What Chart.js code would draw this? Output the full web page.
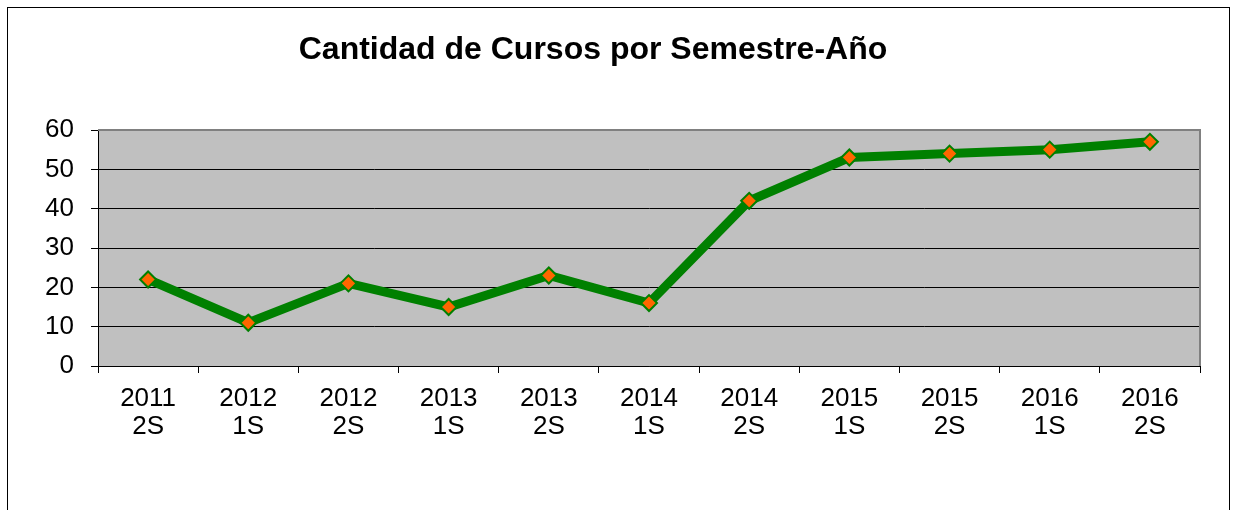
<!DOCTYPE html>
<html>
<head>
<meta charset="utf-8">
<script src="https://cdn.jsdelivr.net/npm/chart.js@4/dist/chart.umd.min.js"></script>
<style>
  html, body { margin: 0; padding: 0; background: #fff; }
  #wrap { width: 1236px; height: 510px; }
</style>
</head>
<body>
<div id="wrap"><canvas id="chart" width="1236" height="510"></canvas></div>
<script>
const titleText = 'Cantidad de Cursos por Semestre-Año';
const years = ['2011', '2012', '2012', '2013', '2013', '2014', '2014', '2015', '2015', '2016', '2016'];
const semesters = ['2S', '1S', '2S', '1S', '2S', '1S', '2S', '1S', '2S', '1S', '2S'];
const cursos = [22, 11, 21, 15, 23, 16, 42, 53, 54, 55, 57];
const yMin = 0;
const yMax = 60;
const yStep = 10;

const labels = years.map((y, i) => [y, semesters[i]]);
const FONT = 'Arial, "Liberation Sans", sans-serif';

// frame, grey plot background and title
const framePlugin = {
    id: 'frame',
    beforeDraw(chart) {
        const { ctx, chartArea: a } = chart;
        ctx.save();
        ctx.fillStyle = '#fff';
        ctx.fillRect(0, 0, chart.width, chart.height);
        ctx.strokeStyle = '#000';
        ctx.lineWidth = 1;
        ctx.strokeRect(7.5, 7.5, 1222, 600);
        ctx.fillStyle = '#C0C0C0';
        ctx.fillRect(a.left, a.top, a.right - a.left, a.bottom - a.top);
        ctx.fillStyle = '#000';
        ctx.font = 'bold 32px ' + FONT;
        ctx.textAlign = 'center';
        ctx.textBaseline = 'alphabetic';
        ctx.fillText(titleText, 593, 59);
        ctx.restore();
    },
    beforeDatasetsDraw(chart) {
        const { ctx, chartArea: a } = chart;
        ctx.save();
        ctx.strokeStyle = '#808080';
        ctx.lineWidth = 2;
        ctx.beginPath();
        ctx.moveTo(a.left, a.top);
        ctx.lineTo(a.right, a.top);
        ctx.lineTo(a.right, a.bottom);
        ctx.stroke();
        ctx.restore();
    }
};

new Chart(document.getElementById('chart'), {
    type: 'line',
    data: {
        labels: labels,
        datasets: [{
            data: cursos,
            borderColor: '#008000',
            borderWidth: 9,
            tension: 0,
            pointStyle: 'rectRot',
            pointRadius: 8,
            pointBackgroundColor: '#FF6600',
            pointBorderColor: '#008000',
            pointBorderWidth: 2
        }]
    },
    options: {
        responsive: false,
        animation: false,
        devicePixelRatio: 1,
        layout: { padding: { top: 130, right: 36, left: 0, bottom: 0 } },
        plugins: {
            legend: { display: false },
            title: { display: false },
            tooltip: { enabled: false }
        },
        scales: {
            x: {
                offset: true,
                grid: { offset: true, drawOnChartArea: false, drawTicks: true, tickLength: 7, color: '#000' },
                border: { color: '#000', width: 1 },
                ticks: { color: '#000', font: { family: FONT, size: 26, lineHeight: 1.08 }, padding: 12, maxRotation: 0, autoSkip: false },
                afterFit: s => { s.height = 144; }
            },
            y: {
                min: yMin,
                max: yMax,
                grid: { color: '#000', lineWidth: 1, tickLength: 7 },
                border: { color: '#000', width: 1 },
                ticks: { stepSize: yStep, color: '#000', font: { family: FONT, size: 26 }, padding: 17 },
                afterFit: s => { s.width = 98; }
            }
        }
    },
    plugins: [framePlugin]
});
</script>
</body>
</html>
